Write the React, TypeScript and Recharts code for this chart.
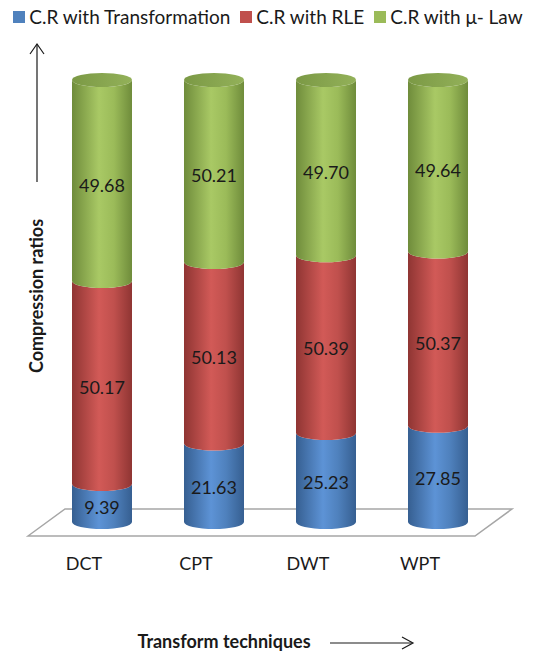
import { BarChart, Bar, XAxis, YAxis, Legend } from "recharts";

const techniques = ["DCT", "CPT", "DWT", "WPT"];
const crTransformation = [9.39, 21.63, 25.23, 27.85];
const crRle = [50.17, 50.13, 50.39, 50.37];
const crMuLaw = [49.68, 50.21, 49.7, 49.64];

const seriesNames = ["C.R with Transformation", "C.R with RLE", "C.R with μ- Law"];
const seriesColors = ["#4F81BD", "#C0504D", "#9BBB59"];

const data = techniques.map((name, i) => ({
  name,
  tr: crTransformation[i],
  rle: crRle[i],
  mu: crMuLaw[i],
}));

const FONT = "Lato, 'Open Sans', sans-serif";
const RY = 7;

// dark edge / light middle / dark edge for the cylinder look
const shades: Record<string, { base: string; dark: string; light: string; top: [string, string] }> = {
  tr: { base: "#4F81BD", dark: "#365f91", light: "#5d93d6", top: ["#3f6ea8", "#5b8ccb"] },
  rle: { base: "#C0504D", dark: "#8f3533", light: "#d25a57", top: ["#a8403d", "#c85754"] },
  mu: { base: "#9BBB59", dark: "#6f8c3b", light: "#a9c965", top: ["#7b9945", "#93b159"] },
};

function makeCylinder(key: string, isTop: boolean) {
  return (props: any) => {
    const { x, y, width, height, index } = props;
    if (width == null || height == null) return null;
    const s = shades[key];
    const gid = `g-${key}-${index}`;
    const tid = `t-${key}-${index}`;
    const rx = width / 2;
    const d = `M ${x} ${y} A ${rx} ${RY} 0 0 0 ${x + width} ${y} L ${x + width} ${y + height} A ${rx} ${RY} 0 0 1 ${x} ${y + height} Z`;
    return (
      <g>
        <defs>
          <linearGradient id={gid} x1="0" y1="0" x2="1" y2="0">
            <stop offset="0%" stopColor={s.dark} />
            <stop offset="45%" stopColor={s.light} />
            <stop offset="70%" stopColor={s.base} />
            <stop offset="100%" stopColor={s.dark} />
          </linearGradient>
          <linearGradient id={tid} x1="0" y1="0" x2="1" y2="0">
            <stop offset="0%" stopColor={s.top[0]} />
            <stop offset="100%" stopColor={s.top[1]} />
          </linearGradient>
        </defs>
        <path d={d} fill={`url(#${gid})`} />
        {isTop && <ellipse cx={x + rx} cy={y} rx={rx} ry={RY} fill={`url(#${tid})`} />}
      </g>
    );
  };
}

function makeLabel(values: number[]) {
  return (props: any) => {
    const { x, y, width, height, index } = props;
    return (
      <text
        x={x + width / 2}
        y={y + height / 2 + 4}
        textAnchor="middle"
        dominantBaseline="central"
        fontFamily={FONT}
        fontSize={18}
        fill="#1a1a1a"
      >
        {values[index].toFixed(2)}
      </text>
    );
  };
}

const TechTick = (props: any) => {
  const { x, y, payload } = props;
  return (
    <text x={x - 18} y={y + 40} textAnchor="middle" fontFamily={FONT} fontSize={18} fill="#1a1a1a">
      {payload.value}
    </text>
  );
};

const TopLegend = () => (
  <div style={{ display: "flex", justifyContent: "center", gap: 10, fontFamily: FONT, fontSize: 19, color: "#1a1a1a" }}>
    {seriesNames.map((n, i) => (
      <div key={n} style={{ display: "flex", alignItems: "center", gap: 4 }}>
        <span style={{ display: "inline-block", width: 12, height: 12, background: seriesColors[i] }} />
        <span>{n}</span>
      </div>
    ))}
  </div>
);

export default function App() {
  return (
    <div style={{ position: "absolute", left: 0, top: 0, width: 536, height: 655, background: "#fff" }}>
      <svg width={536} height={655} style={{ position: "absolute", left: 0, top: 0 }}>
        <polygon points="28,536 65,509 512,509 475,536" fill="#fff" stroke="#a6a6a6" strokeWidth={1.5} />
      </svg>
      <div style={{ position: "absolute", left: 0, top: 0 }}>
        <BarChart
          width={536}
          height={655}
          data={data}
          stackOffset="expand"
          barSize={60}
          margin={{ top: 80, right: 42, bottom: 103, left: 46 }}
        >
          <XAxis dataKey="name" axisLine={false} tickLine={false} height={30} tick={<TechTick />} />
          <YAxis hide domain={[0, 1]} />
          <Legend
            verticalAlign="middle"
            align="center"
            layout="horizontal"
            content={<TopLegend />}
            wrapperStyle={{ top: 5, left: 0, width: 536 }}
          />
          <Bar
            dataKey="tr"
            name={seriesNames[0]}
            stackId="a"
            fill={seriesColors[0]}
            shape={makeCylinder("tr", false)}
            label={makeLabel(crTransformation)}
            isAnimationActive={false}
          />
          <Bar
            dataKey="rle"
            name={seriesNames[1]}
            stackId="a"
            fill={seriesColors[1]}
            shape={makeCylinder("rle", false)}
            label={makeLabel(crRle)}
            isAnimationActive={false}
          />
          <Bar
            dataKey="mu"
            name={seriesNames[2]}
            stackId="a"
            fill={seriesColors[2]}
            shape={makeCylinder("mu", true)}
            label={makeLabel(crMuLaw)}
            isAnimationActive={false}
          />
        </BarChart>
      </div>
      <svg width={536} height={655} style={{ position: "absolute", left: 0, top: 0, pointerEvents: "none" }}>
        <line x1={37} y1={182} x2={37} y2={44} stroke="#1a1a1a" strokeWidth={1.2} />
        <polyline points="30,54 37,44 44,54" fill="none" stroke="#1a1a1a" strokeWidth={1.2} />
        <text
          x={0}
          y={0}
          transform="translate(43 296) rotate(-90)"
          textAnchor="middle"
          fontFamily={FONT}
          fontSize={18}
          fontWeight="bold"
          fill="#1a1a1a"
        >
          Compression ratios
        </text>
        <text x={224} y={648} textAnchor="middle" fontFamily={FONT} fontSize={18} fontWeight="bold" fill="#1a1a1a">
          Transform techniques
        </text>
        <line x1={330} y1={643} x2={412} y2={643} stroke="#1a1a1a" strokeWidth={1.2} />
        <polyline points="402,637 413,643 402,649" fill="none" stroke="#1a1a1a" strokeWidth={1.2} />
      </svg>
    </div>
  );
}
